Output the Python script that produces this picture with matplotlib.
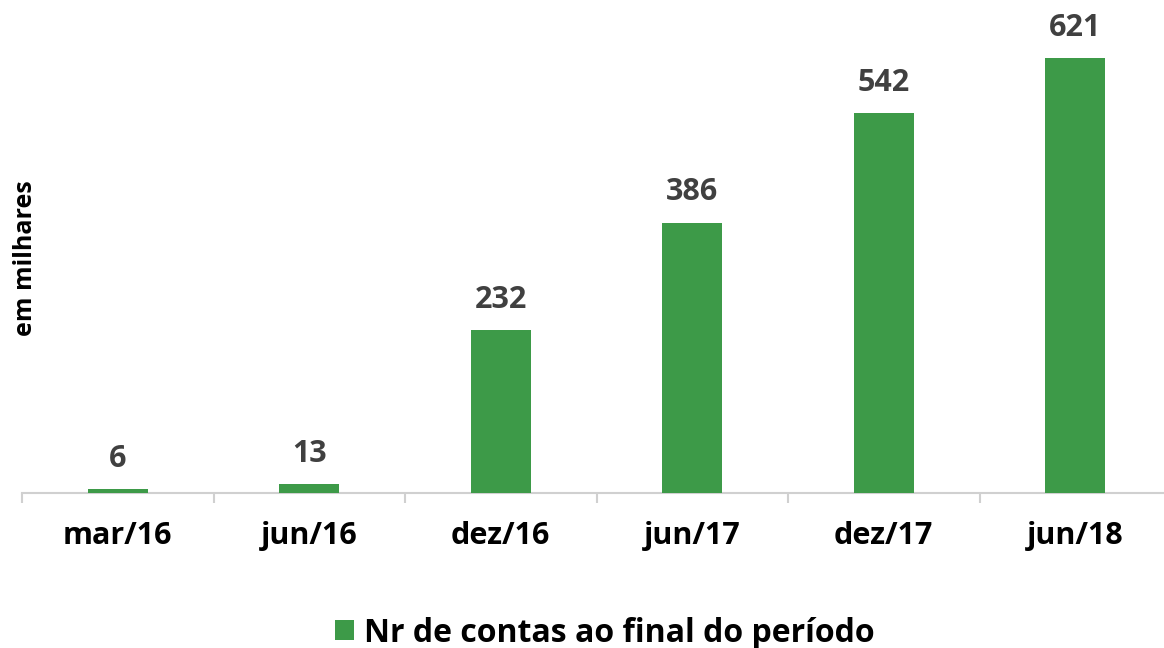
import matplotlib
matplotlib.use("Agg")
import matplotlib.pyplot as plt
import numpy as np

categories = ["mar/16", "jun/16", "dez/16", "jun/17", "dez/17", "jun/18"]
values = [6, 13, 232, 386, 542, 621]
series_name = "Nr de contas ao final do período"
ylabel = "em milhares"

plt.rcParams['font.family'] = ['Open Sans', 'DejaVu Sans']

W, H = 1164, 648
fig = plt.figure(figsize=(W/100, H/100), dpi=100)
left_px, right_px, base_px = 22, 1171, 493
ax = fig.add_axes([left_px/W, 1-base_px/H, (right_px-left_px)/W, base_px/H])

x = np.arange(len(categories))
green = "#3d9a48"
bars = ax.bar(x, values, width=0.313, color=green, label=series_name, zorder=3)
ax.set_xlim(-0.5, len(categories)-0.5)
ax.set_ylim(0, 703.8)

for xi, v in zip(x, values):
    ax.annotate(f"{v}", (xi, v), xytext=(0, 11), textcoords="offset points",
                ha="center", va="bottom", fontsize=22, fontweight="bold", color="#404040")

for s in ["top", "right", "left"]:
    ax.spines[s].set_visible(False)
ax.spines["bottom"].set_color("#d0d0d0")
ax.spines["bottom"].set_linewidth(1.5)
ax.set_yticks([])
ax.set_xticks(x)
ax.set_xticklabels(categories, fontsize=22, fontweight="bold", color="black")
ax.tick_params(axis="x", which="major", length=0, pad=20)
ax.set_xticks(np.arange(-0.5, len(categories), 1), minor=True)
ax.tick_params(axis="x", which="minor", length=7, width=1.5, color="#d0d0d0")

fig.text(26/W, 1-258/H, ylabel, rotation=90, ha="center", va="center",
         fontsize=18, fontweight="bold", color="black")

fig.legend(handles=[bars], labels=[series_name], loc="center", bbox_to_anchor=(605/W, 1-633/H),
           frameon=False, prop={"size": 23, "weight": "bold"}, handlelength=0.6, handleheight=0.6,
           handletextpad=0.3)

fig.savefig("out.png", dpi=100)
